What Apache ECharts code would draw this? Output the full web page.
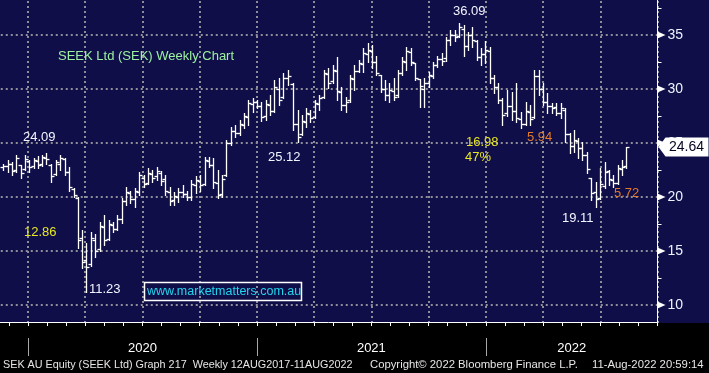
<!DOCTYPE html>
<html><head><meta charset="utf-8">
<script src="https://cdn.jsdelivr.net/npm/echarts@6/dist/echarts.min.js"></script>
<style>html,body{margin:0;padding:0;background:#000;}#c{width:709px;height:373px;}</style>
</head><body><div id="c"></div>
<script>
// ---------- DATA ----------
const weekStart = '2019-11-22'; // first weekly bar (Fridays)
const opens = [22.8,22.9,23.1,22.5,23.0,22.6,23.3,22.9,23.3,23.1,
 23.6,23.0,22.1,23.1,23.5,22.3,20.7,19.9,16.2,14.2,
 13.8,16.0,15.2,17.2,16.1,17.4,17.0,18.0,19.6,20.4,
 19.8,20.5,21.8,21.3,22.1,21.9,22.2,21.7,20.5,19.7,
 20.0,20.5,20.3,20.0,21.1,21.5,21.2,23.3,23.0,21.3,
 20.3,22.0,25.0,26.1,25.9,26.7,27.4,28.6,28.8,28.4,
 27.5,28.5,28.0,30.0,29.3,31.0,30.5,26.8,25.8,26.9,
 27.7,27.4,28.6,29.3,31.4,30.7,31.7,29.7,28.5,29.0,
 30.9,31.7,32.3,33.2,33.5,32.5,31.3,30.0,29.4,29.8,
 29.4,31.5,32.5,33.4,32.4,30.9,30.0,30.6,31.2,32.2,
 32.8,32.9,34.5,35.0,34.9,35.6,34.0,35.0,34.4,33.0,
 33.2,33.5,31.0,30.2,29.0,27.8,28.4,28.0,27.2,26.8,
 27.9,27.4,31.2,30.0,28.8,28.4,28.3,27.8,28.1,25.8,
 24.7,25.2,24.5,23.9,21.8,20.5,19.9,21.0,22.4,21.6,
 21.3,22.6,22.9];
const highs = [23.1,23.4,23.2,23.9,23.0,23.9,23.4,23.6,23.8,23.9,
 24.09,23.1,23.4,23.9,23.6,22.8,20.8,20.0,16.9,15.7,
 16.8,16.6,17.7,18.3,17.9,17.7,18.3,19.9,20.9,20.6,
 20.8,22.3,22.0,22.7,22.5,22.8,22.4,22.0,20.9,20.5,
 20.8,21.1,20.6,21.6,21.9,22.0,23.7,23.7,23.6,22.5,
 22.0,25.3,26.5,26.7,27.1,27.8,29.0,29.2,29.0,28.8,
 29.0,29.4,30.8,31.0,31.5,31.8,30.6,28.1,27.6,28.2,
 28.1,29.0,29.4,31.8,31.9,32.2,33.0,30.2,29.3,31.3,
 32.2,32.7,33.8,34.3,34.1,33.1,31.3,30.8,30.6,31.0,
 31.8,33.0,33.9,33.8,32.4,30.9,31.0,31.6,32.5,33.1,
 33.3,34.8,35.5,35.5,36.09,35.9,35.3,35.7,34.5,33.8,
 34.4,33.9,31.3,30.6,29.2,29.9,29.7,30.6,27.9,28.8,
 28.5,31.8,31.8,30.6,29.6,28.7,28.7,28.7,28.2,25.9,
 26.2,25.5,25.1,24.2,21.8,21.4,22.7,23.2,22.5,22.0,
 23.0,23.4,24.64];
const lows = [22.5,22.3,22.0,22.3,21.8,22.5,22.3,22.7,22.7,22.9,
 23.1,21.4,22.0,22.5,22.0,20.6,20.0,15.3,13.4,11.23,
 13.6,14.4,15.0,15.6,16.0,16.8,16.9,17.6,19.3,19.4,
 19.1,20.2,20.9,21.2,21.4,21.6,21.1,20.2,19.3,19.3,
 19.5,20.0,19.7,19.7,20.4,20.6,21.1,22.8,20.8,19.9,
 20.0,21.9,24.8,25.6,25.7,26.4,26.7,27.9,28.2,27.0,
 27.1,27.6,27.9,28.5,29.2,30.4,26.2,25.12,25.7,26.5,
 26.9,27.3,28.1,29.2,30.1,30.6,29.0,28.1,27.9,28.8,
 29.9,31.6,31.6,32.5,31.9,31.3,29.7,29.0,28.8,29.0,
 29.3,31.3,31.8,32.2,30.8,28.3,28.3,30.2,31.0,32.0,
 32.2,32.6,34.1,34.4,34.8,33.1,33.6,33.9,32.7,32.2,
 32.4,30.6,29.6,28.7,26.7,27.5,27.1,26.9,26.4,26.7,
 26.7,27.3,29.4,28.5,27.8,27.8,27.6,27.3,25.1,24.1,
 24.2,23.6,23.4,22.2,19.7,19.11,19.8,20.8,21.1,20.9,
 21.2,22.0,22.7];
const closes = [22.9,23.1,22.4,23.6,22.2,23.5,22.8,23.4,23.0,23.7,
 23.5,21.9,23.2,23.6,22.3,20.9,20.2,16.0,14.0,13.5,
 16.2,15.0,17.3,16.0,17.5,17.0,18.0,19.6,20.5,19.8,
 20.6,22.0,21.2,22.2,21.8,22.4,21.5,20.6,19.6,20.1,
 20.5,20.3,20.0,21.2,21.6,21.1,23.4,23.0,21.4,20.2,
 21.7,25.0,26.1,25.9,26.8,27.5,28.7,28.8,28.4,27.4,
 28.6,28.0,30.2,29.0,31.0,31.2,26.8,25.6,27.0,27.8,
 27.3,28.7,29.2,31.5,30.6,31.8,29.8,28.5,28.8,31.0,
 31.7,32.4,33.3,33.6,32.5,31.5,30.0,29.4,29.9,29.3,
 31.5,32.6,33.5,32.5,31.0,30.3,30.6,31.3,32.2,32.8,
 32.6,34.5,35.0,34.8,35.7,34.0,35.0,34.5,33.0,33.2,
 33.6,31.0,30.2,29.0,27.6,28.4,28.0,27.3,26.8,28.0,
 27.2,31.2,30.0,28.8,28.4,28.2,27.8,28.2,25.8,24.7,
 25.3,24.5,23.9,22.6,20.4,19.8,21.2,22.3,21.7,21.3,
 22.7,22.8,24.64];
const yTickValues = [10, 15, 20, 25, 30, 35];
const yearLabels = {'6': '2020', '18': '2021', '28.5': '2022'}; // month positions (0 = Jan 2020)
const yearStarts = [0, 12, 24];
const lastPrice = 24.64;
const annotations = [
  {text: 'SEEK Ltd (SEK) Weekly Chart', x: 58, y: 56, color: '#9cf0a0', size: 13},
  {text: '24.09', x: 23, y: 137, color: '#f2f4ff', size: 13},
  {text: '12.86', x: 24, y: 232, color: '#e6e623', size: 13},
  {text: '11.23', x: 89, y: 289, color: '#f2f4ff', size: 13},
  {text: '25.12', x: 268, y: 157, color: '#f2f4ff', size: 13},
  {text: '36.09', x: 453, y: 11, color: '#f2f4ff', size: 13},
  {text: '16.98', x: 466, y: 142, color: '#e6e623', size: 13},
  {text: '47%', x: 465, y: 157, color: '#e6e623', size: 13},
  {text: '5.94', x: 527, y: 137, color: '#e27a2e', size: 13},
  {text: '5.72', x: 614, y: 193, color: '#e27a2e', size: 13},
  {text: '19.11', x: 562, y: 218, color: '#f2f4ff', size: 13}
];
const footer = [
  {text: 'SEK AU Equity (SEEK Ltd) Graph 217  Weekly 12AUG2017-11AUG2022', x: 3, size: 10.8},
  {text: 'Copyright\u00a9 2022 Bloomberg Finance L.P.', x: 370, size: 11.3},
  {text: '11-Aug-2022 20:59:14', x: 592, size: 11.3}
];
const website = 'www.marketmatters.com.au';

// ---------- BUILD ----------
function monthPos(d) {
  const y = d.getUTCFullYear(), m = d.getUTCMonth(), day = d.getUTCDate();
  const dim = new Date(Date.UTC(y, m + 1, 0)).getUTCDate();
  return (y - 2020) * 12 + m + (day - 1) / dim;
}
const base = new Date(weekStart + 'T00:00:00Z');
const ohlc = closes.map((c, i) => {
  const d = new Date(base.getTime() + i * 7 * 86400000);
  return [monthPos(d), opens[i], highs[i], lows[i], c];
});

const chart = echarts.init(document.getElementById('c'), null, {renderer: 'canvas'});
const FONT = '"Liberation Sans", Arial, sans-serif';
const gridStyle = {color: '#8e8e98', type: [2, 3], width: 2};
const pxPerMonth = (657.5 - 28) / 33;

const option = {
  animation: false,
  backgroundColor: '#0f0e48',
  grid: {left: 28 - 3 * pxPerMonth, width: 36 * pxPerMonth, top: -19, height: 378,
         containLabel: false, outerBoundsMode: 'none'},
  xAxis: [
    {type: 'value', min: -3, max: 33, interval: 1, position: 'bottom', offset: -37, z: 3,
     axisLine: {show: true, onZero: false, lineStyle: {color: '#ffffff', width: 1}},
     axisTick: {show: true, length: 4, lineStyle: {color: '#ffffff', width: 1}},
     axisLabel: {show: false}, splitLine: {show: false}},
    {type: 'value', min: -3, max: 33, interval: 3, position: 'bottom', z: 0,
     axisLine: {show: false, onZero: false}, axisTick: {show: false}, axisLabel: {show: false},
     splitLine: {show: true, lineStyle: gridStyle}},
    {type: 'value', min: -3, max: 33, interval: 0.5, position: 'bottom', offset: -37, z: 3,
     axisLine: {show: false, onZero: false}, axisTick: {show: false}, splitLine: {show: false},
     axisLabel: {show: true, margin: 20, color: '#ffffff', fontSize: 13, fontFamily: FONT,
       formatter: v => yearLabels[String(v)] || ''}}
  ],
  yAxis: {type: 'value', position: 'right', min: 5, max: 40, interval: 5, z: 0,
    axisLine: {show: true, onZero: false, lineStyle: {color: '#ffffff', width: 1}},
    axisTick: {show: false},
    minorTick: {show: true, splitNumber: 2, length: 4, lineStyle: {color: '#ffffff', width: 1}},
    axisLabel: {color: '#eef2ff', fontSize: 14, margin: 10, fontFamily: FONT},
    splitLine: {show: true, lineStyle: gridStyle}},
  series: [{
    type: 'custom', coordinateSystem: 'cartesian2d', xAxisIndex: 0, yAxisIndex: 0, z: 2,
    data: ohlc,
    encode: {x: 0, y: [1, 2, 3, 4]},
    renderItem: function (params, api) {
      const x = api.value(0);
      const o = api.coord([x, api.value(1)]);
      const h = api.coord([x, api.value(2)]);
      const l = api.coord([x, api.value(3)]);
      const c = api.coord([x, api.value(4)]);
      const px = Math.round(h[0]) + 0.5;
      const st = {stroke: '#ffffff', lineWidth: 1.3};
      return {type: 'group', children: [
        {type: 'line', shape: {x1: px, y1: Math.round(h[1]), x2: px, y2: Math.round(l[1]) + 1}, style: st},
        {type: 'line', shape: {x1: px - 3, y1: Math.round(o[1]) + 0.5, x2: px, y2: Math.round(o[1]) + 0.5}, style: st},
        {type: 'line', shape: {x1: px, y1: Math.round(c[1]) + 0.5, x2: px + 3, y2: Math.round(c[1]) + 0.5}, style: st}
      ]};
    },
    markPoint: {
      silent: true,
      data: yTickValues.map(v => ({
        coord: [33, v], symbol: 'path://M0,0 L8,4 L0,8 Z', symbolSize: [8, 7],
        symbolOffset: [4, 0], itemStyle: {color: '#ffffff'}, label: {show: false}
      })).concat([{
        coord: [33, lastPrice], symbol: 'path://M0,9.5 L7,0 L50,0 L50,19 L7,19 Z',
        symbolSize: [50, 19], symbolOffset: [26, 0], itemStyle: {color: '#ffffff'},
        label: {show: true, position: 'inside', formatter: String(lastPrice), color: '#050520',
                fontSize: 14, fontFamily: FONT, offset: [3, 0]}
      }])
    }
  }]
};
chart.setOption(option);

const graphics = [
  {type: 'rect', z: 1, shape: {x: 0, y: 323, width: 709, height: 50}, style: {fill: '#000000'}}
];
yearStarts.forEach(m => {
  const px = Math.round(chart.convertToPixel({xAxisIndex: 0}, m)) + 0.5;
  graphics.push({type: 'line', z: 4, shape: {x1: px, y1: 338, x2: px, y2: 356},
                 style: {stroke: '#a8a8a8', lineWidth: 1}});
});
annotations.forEach(a => graphics.push({type: 'text', z: 10,
  style: {text: a.text, x: a.x, y: a.y, fill: a.color, font: a.size + 'px ' + FONT,
          align: 'left', verticalAlign: 'middle'}}));
graphics.push({type: 'rect', z: 10, shape: {x: 144.5, y: 282.5, width: 157, height: 18},
  style: {fill: 'none', stroke: '#ffffff', lineWidth: 1.5}});
graphics.push({type: 'text', z: 11, style: {text: website, x: 147, y: 292, fill: '#22d6ee',
  font: '12.5px ' + FONT, align: 'left', verticalAlign: 'middle'}});
footer.forEach(f => graphics.push({type: 'text', z: 10,
  style: {text: f.text, x: f.x, y: 365, fill: '#e6e6e6', font: f.size + 'px ' + FONT,
          align: 'left', verticalAlign: 'middle'}}));
chart.setOption({graphic: graphics});
</script></body></html>
